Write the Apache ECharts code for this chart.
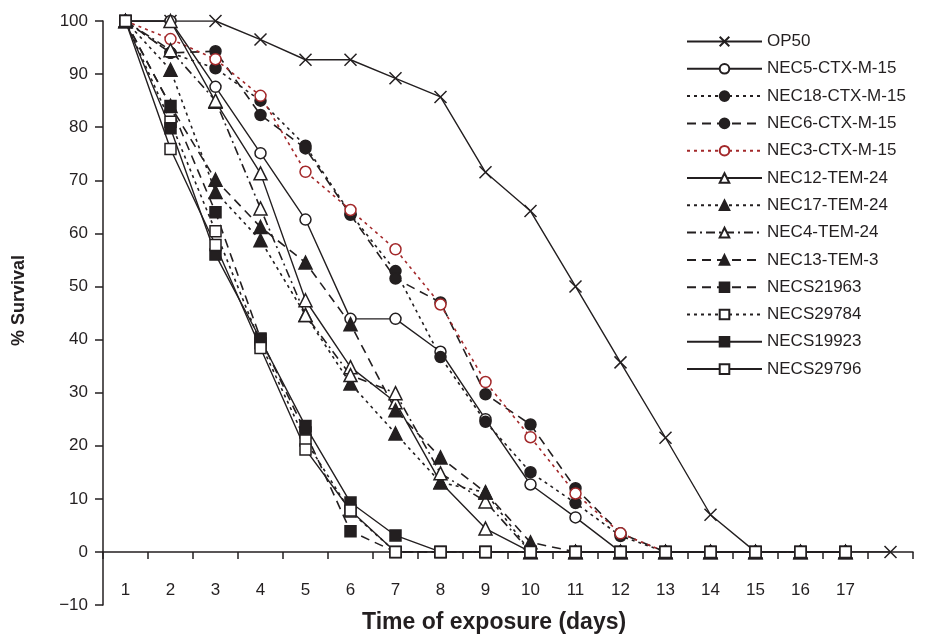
<!DOCTYPE html>
<html>
<head>
<meta charset="utf-8">
<title>Survival</title>
<script src="https://cdn.jsdelivr.net/npm/echarts@6/dist/echarts.min.js"></script>
<style>
  html, body { margin: 0; padding: 0; background: #fff; }
  #chart { width: 946px; height: 639px; }
</style>
</head>
<body>
<div id="chart"></div>
<script>
// days 1..17 (the 18th slot only carries the last OP50 point)
const days = ['1','2','3','4','5','6','7','8','9','10','11','12','13','14','15','16','17',''];

const op50      = [100,100,100,96.5,92.7,92.7,89.2,85.7,71.5,64.2,50,35.7,21.5,7,0,0,0,0];
const nec5      = [100,100,87.6,75.1,62.6,43.9,43.9,37.7,25,12.7,6.5,0,0,0,0,0,0];
const nec18     = [100,94,91.1,85,76.5,63.7,52.9,36.7,24.5,15,9.2,3,0,0,0,0,0];
const nec6      = [100,94,94.3,82.3,76,63.5,51.5,47,29.7,24,12,3.5,0,0,0,0,0];
const nec3      = [100,96.6,92.8,85.9,71.6,64.4,57,46.6,32,21.6,11,3.5,0,0,0,0,0];
const nec12     = [100,100,84.8,71.3,47.4,34.8,28.2,13.1,4.4,0,0,0,0,0,0,0,0];
const nec17     = [100,90.8,67.8,58.7,44.6,31.7,22.3,13.1,11.2,0,0,0,0,0,0,0,0];
const nec4      = [100,94.5,85,64.7,44.6,33.3,29.9,14.8,9.5,0,0,0,0,0,0,0,0];
const nec13     = [100,84,70.1,61.2,54.5,42.9,26.7,17.8,11.2,1.8,0,0,0,0,0,0,0];
const necs21963 = [100,84,64,40.2,22.5,3.9,0,0,0,0,0,0,0,0,0,0,0];
const necs29784 = [100,81,60.4,39.3,21,7.6,0,0,0,0,0,0,0,0,0,0,0];
const necs19923 = [100,79.8,56,40,23.7,9.3,3.1,0,0,0,0,0,0,0,0,0,0];
const necs29796 = [100,75.9,57.8,38.4,19.3,7.8,0,0,0,0,0,0,0,0,0,0,0];

const yTicks = [-10,0,10,20,30,40,50,60,70,80,90,100];

const ink = '#231f20';
const red = '#a3282a';
const font = 'Liberation Sans, Arial, Helvetica, sans-serif';

const solid = 'solid';
const dot = [3, 4];
const dash = [9, 6];
const dashDot = [9, 4, 2, 4];

function mk(name, data, symbol, filled, type, color, size) {
  color = color || ink;
  return {
    name: name,
    type: 'line',
    data: data,
    symbol: symbol,
    symbolSize: size || 11,
    showAllSymbol: true,
    animation: false,
    lineStyle: { color: color, width: type === solid ? 1.4 : 1.6, type: type },
    itemStyle: {
      color: filled ? color : '#fff',
      borderColor: color,
      borderWidth: 1.5
    },
    emphasis: { disabled: true }
  };
}

const cross = 'path://M0,0L10,10M10,0L0,10';

const chart = echarts.init(document.getElementById('chart'));
chart.setOption({
  backgroundColor: '#fff',
  animation: false,
  grid: { left: 103, right: 33, top: 21, bottom: 34, containLabel: false, outerBoundsMode: 'none' },
  legend: {
    orient: 'vertical',
    left: 681,
    top: 28,
    itemWidth: 75,
    itemHeight: 12,
    itemGap: 10.3,
    textStyle: { fontFamily: font, fontSize: 17, color: ink },
    data: ['OP50','NEC5-CTX-M-15','NEC18-CTX-M-15','NEC6-CTX-M-15','NEC3-CTX-M-15',
      'NEC12-TEM-24','NEC17-TEM-24','NEC4-TEM-24','NEC13-TEM-3','NECS21963',
      'NECS29784','NECS19923','NECS29796']
  },
  xAxis: {
    type: 'category',
    data: days,
    boundaryGap: true,
    axisLine: { onZero: true, lineStyle: { color: ink, width: 1.5 } },
    axisTick: { show: true, length: 7, lineStyle: { color: ink, width: 1.5 } },
    // labels are laid out from the grid bottom, so pull them up above it
    axisLabel: { margin: -23, fontFamily: font, fontSize: 17, color: ink, interval: 0 },
    splitLine: { show: false }
  },
  yAxis: {
    type: 'value',
    min: -10,
    max: 100,
    interval: 10,
    axisLine: { show: true, onZero: false, lineStyle: { color: ink, width: 1.5 } },
    axisTick: { show: true, length: 8, lineStyle: { color: ink, width: 1.5 } },
    axisLabel: {
      margin: 15, fontFamily: font, fontSize: 17, color: ink,
      formatter: function (v) { return yTicks.indexOf(v) >= 0 ? (v < 0 ? '\u2212' + (-v) : String(v)) : ''; }
    },
    splitLine: { show: false }
  },
  graphic: [
    {
      type: 'text', left: 10, top: 255, rotation: Math.PI / 2,
      style: { text: '% Survival', font: 'bold 18px ' + font, fill: ink }
    },
    {
      type: 'text', left: 362, top: 611,
      style: { text: 'Time of exposure (days)', font: 'bold 23px ' + font, fill: ink }
    }
  ],
  series: [
    mk('OP50', op50, cross, false, solid, ink, 12),
    mk('NEC5-CTX-M-15', nec5, 'circle', false, solid),
    mk('NEC18-CTX-M-15', nec18, 'circle', true, dot),
    mk('NEC6-CTX-M-15', nec6, 'circle', true, dash),
    mk('NEC3-CTX-M-15', nec3, 'circle', false, dot, red),
    mk('NEC12-TEM-24', nec12, 'triangle', false, solid, ink, 13),
    mk('NEC17-TEM-24', nec17, 'triangle', true, dot, ink, 13),
    mk('NEC4-TEM-24', nec4, 'triangle', false, dashDot, ink, 13),
    mk('NEC13-TEM-3', nec13, 'triangle', true, dash, ink, 13),
    mk('NECS21963', necs21963, 'rect', true, dash),
    mk('NECS29784', necs29784, 'rect', false, dot),
    mk('NECS19923', necs19923, 'rect', true, solid),
    mk('NECS29796', necs29796, 'rect', false, solid)
  ]
});
</script>
</body>
</html>
